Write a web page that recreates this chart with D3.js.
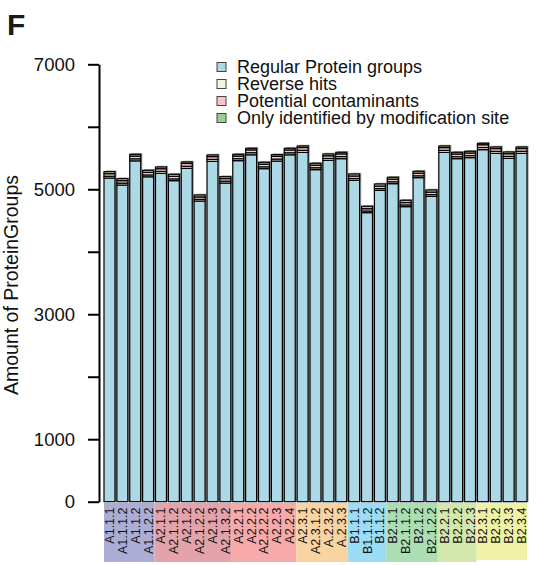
<!DOCTYPE html>
<html>
<head>
<meta charset="utf-8">
<script src="https://cdn.jsdelivr.net/npm/d3@7"></script>
<style>
  html, body { margin: 0; padding: 0; background: #fff; }
  svg { display: block; font-family: "Liberation Sans", Arial, Helvetica, sans-serif; }
</style>
</head>
<body>
<svg id="chart" width="544" height="565"></svg>
<script>
// Sample names, one per bar
const samples = [
  "A1.1.1", "A1.1.1.2", "A1.1.2", "A1.1.2.2",
  "A2.1.1", "A2.1.1.2", "A2.1.2", "A2.1.2.2", "A2.1.3", "A2.1.3.2",
  "A2.2.1", "A2.2.2", "A2.2.2.2", "A2.2.3", "A2.2.4",
  "A2.3.1", "A2.3.1.2", "A.2.3.2", "A.2.3.3",
  "B1.1.1", "B1.1.1.2", "B1.1.2",
  "B2.1.1", "B2.1.1.2", "B2.1.2", "B2.1.2.2",
  "B2.2.1", "B2.2.2", "B2.2.3",
  "B2.3.1", "B2.3.2", "B2.3.3", "B2.3.4"
];

// Protein group counts per sample, stacked bottom to top
const regular = [
  5180, 5068, 5455, 5200,
  5255, 5138, 5335, 4812, 5447, 5100,
  5458, 5552, 5330, 5452, 5552,
  5590, 5314, 5462, 5490,
  5143, 4626, 4983,
  5090, 4722, 5186, 4887,
  5590, 5490, 5506,
  5634, 5575, 5495, 5575
];
const reverseHits = [
  28, 30, 32, 29,
  31, 28, 33, 27, 32, 30,
  31, 33, 29, 31, 32,
  34, 30, 31, 33,
  29, 26, 28,
  30, 27, 29, 28,
  33, 31, 32,
  34, 32, 31, 33
];
const contaminants = [
  42, 40, 44, 41,
  43, 40, 45, 38, 44, 41,
  43, 45, 42, 44, 45,
  44, 41, 43, 44,
  40, 37, 39,
  41, 38, 42, 39,
  44, 43, 42,
  45, 44, 43, 44
];
const modSiteOnly = [
  32, 32, 29, 34,
  28, 34, 24, 32, 26, 31,
  28, 26, 31, 27, 27,
  25, 31, 29, 25,
  33, 39, 35,
  31, 37, 31, 35,
  26, 28, 28,
  23, 26, 28, 25
];

// Series names for the legend, in stacking order
const seriesNames = [
  "Regular Protein groups",
  "Reverse hits",
  "Potential contaminants",
  "Only identified by modification site"
];

// Sample groups shown as coloured strips under the bars
const groupNames = ["A1", "A2.1", "A2.2", "A2.3", "B1", "B2.1", "B2.2", "B2.3"];
const groupSizes = [4, 6, 5, 4, 3, 4, 3, 4];

// Axis ticks
const yTicks = [0, 1000, 2000, 3000, 4000, 5000, 6000, 7000];
const yTickLabels = ["0", "1000", "", "3000", "", "5000", "", "7000"];

// ---- styling ----
const seriesColors = ["#add8e6", "#f5f5dc", "#ffc0cb", "#98d08f"];
const groupColors = ["#abadd4", "#e4a3aa", "#f7aaa9", "#f9d4a2", "#9ddcf5", "#abdeb3", "#d4e8ad", "#eff1a5"];

const svg = d3.select("#chart");

const series = [regular, reverseHits, contaminants, modSiteOnly];
const rows = samples.map((s, i) => {
  const r = { sample: s };
  seriesNames.forEach((n, k) => { r[n] = series[k][i]; });
  return r;
});
const stacked = d3.stack().keys(seriesNames)(rows);

const x = d3.scaleBand().domain(samples).range([104, 527]).paddingInner(0.15).paddingOuter(0);
const y = d3.scaleLinear().domain([0, 7000]).range([501.7, 64.3]);

// Title letter
svg.append("text")
  .attr("x", 7).attr("y", 35)
  .attr("font-size", 30).attr("font-weight", "bold")
  .attr("fill", "#1a1a1a")
  .text("F");

// Y axis
const yAxis = d3.axisLeft(y)
  .tickValues(yTicks)
  .tickFormat((d, i) => yTickLabels[i])
  .tickSize(11)
  .tickSizeOuter(0)
  .tickPadding(13);

const gy = svg.append("g")
  .attr("transform", "translate(99,0)")
  .call(yAxis);
gy.select(".domain").attr("stroke", "#000").attr("stroke-width", 2);
gy.selectAll(".tick line").attr("stroke", "#000").attr("stroke-width", 2);
gy.selectAll(".tick text")
  .attr("font-size", 18.5)
  .attr("fill", "#111")
  .attr("font-family", "\"Liberation Sans\", Arial, sans-serif");

// Y axis title
svg.append("text")
  .attr("transform", "translate(17.5,285) rotate(-90)")
  .attr("text-anchor", "middle")
  .attr("font-size", 19.5)
  .attr("fill", "#111")
  .text("Amount of ProteinGroups");

// Bar shadows
svg.append("g")
  .selectAll("rect")
  .data(rows)
  .join("rect")
  .attr("x", d => x(d.sample) + 1.6)
  .attr("y", (d, i) => y(stacked[3][i][1]) - 1.2)
  .attr("width", x.bandwidth())
  .attr("height", (d, i) => y(0) - y(stacked[3][i][1]) + 1.2)
  .attr("fill", "#7a7a7a")
  .attr("opacity", 0.75);

// Stacked bars
svg.append("g")
  .selectAll("g")
  .data(stacked)
  .join("g")
  .attr("fill", (d, k) => seriesColors[k])
  .selectAll("rect")
  .data(d => d)
  .join("rect")
  .attr("x", d => x(d.data.sample))
  .attr("y", d => y(d[1]))
  .attr("width", x.bandwidth())
  .attr("height", d => y(d[0]) - y(d[1]))
  .attr("stroke", "#000")
  .attr("stroke-width", 1.2);

// Group strips with sample labels
let start = 0;
const halfGap = x.step() * x.paddingInner() / 2;
const strips = groupNames.map((g, k) => {
  const first = samples[start];
  const last = samples[start + groupSizes[k] - 1];
  start += groupSizes[k];
  return { name: g, x0: x(first) - (k === 0 ? 0 : halfGap), x1: x(last) + x.bandwidth() + (k === groupNames.length - 1 ? 0 : halfGap), color: groupColors[k] };
});

svg.append("g")
  .selectAll("rect")
  .data(strips)
  .join("rect")
  .attr("x", d => d.x0)
  .attr("y", 503)
  .attr("width", d => d.x1 - d.x0)
  .attr("height", (d, k) => k === strips.length - 1 ? 57 : 59)
  .attr("fill", d => d.color);

svg.append("g")
  .selectAll("text")
  .data(samples)
  .join("text")
  .attr("transform", d => `translate(${x(d) + x.bandwidth() / 2},507.5) rotate(-90)`)
  .attr("text-anchor", "end")
  .attr("dy", "0.36em")
  .attr("font-size", 12.5)
  .attr("fill", "#111")
  .text(d => d);

// Legend
const legend = svg.append("g").attr("transform", "translate(217,67)");
const item = legend.selectAll("g")
  .data(seriesNames)
  .join("g")
  .attr("transform", (d, i) => `translate(0,${i * 17})`);
item.append("rect")
  .attr("x", 0).attr("y", -4.5)
  .attr("width", 9).attr("height", 9)
  .attr("fill", (d, i) => seriesColors[i])
  .attr("stroke", "#444").attr("stroke-width", 1);
item.append("text")
  .attr("x", 20).attr("y", 0)
  .attr("dy", "0.36em")
  .attr("font-size", 18)
  .attr("fill", "#111")
  .text(d => d);
</script>
</body>
</html>
